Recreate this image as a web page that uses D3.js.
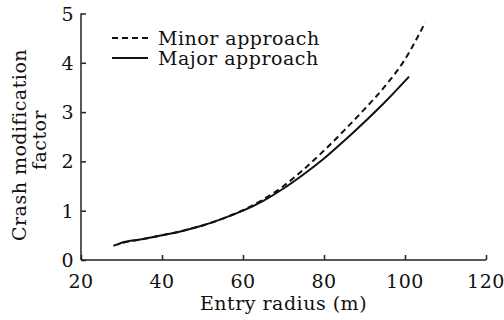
<!DOCTYPE html>
<html>
<head>
<meta charset="utf-8">
<script src="https://cdn.jsdelivr.net/npm/d3@7"></script>
<style>
  body { margin: 0; background: #fff; }
  svg text { font-family: "DejaVu Serif", serif; fill: #111; letter-spacing: 0.5px; }
  .axis path, .axis line { stroke: #222; stroke-width: 1.5; }
</style>
</head>
<body>
<svg width="504" height="320"></svg>
<script>
// entry radius (m) and crash modification factor
const minorRadius = [28, 30, 35, 40, 45, 50, 55, 60, 65, 70, 75, 80, 85, 90, 95, 100, 105];
const minorCmf    = [0.29, 0.34, 0.42, 0.50, 0.59, 0.70, 0.84, 1.01, 1.23, 1.50, 1.84, 2.22, 2.63, 3.06, 3.52, 4.07, 4.82];
const majorRadius = [29, 30, 35, 40, 45, 50, 55, 60, 65, 70, 75, 80, 85, 90, 95, 101];
const majorCmf    = [0.31, 0.35, 0.42, 0.50, 0.59, 0.70, 0.84, 1.00, 1.20, 1.45, 1.74, 2.06, 2.42, 2.80, 3.20, 3.72];
const xTicks = [20, 40, 60, 80, 100, 120];
const yTicks = [0, 1, 2, 3, 4, 5];
const legendLabels = ["Minor approach", "Major approach"];

const svg = d3.select("svg");

const x = d3.scaleLinear().domain([20, 120]).range([81, 486]),
    y = d3.scaleLinear().domain([0, 5]).range([260, 13.5]);

const xAxis = d3.axisTop(x).tickValues(xTicks).tickSize(5).tickFormat(""),
    yAxis = d3.axisRight(y).tickValues(yTicks).tickSize(5).tickFormat("");

svg.append("g")
    .attr("class", "axis")
    .attr("transform", "translate(0," + y(0) + ")")
    .call(xAxis)
    .call(g => g.select(".domain").attr("d", "M" + x(20) + ",0H" + x(120)));

svg.append("g")
    .attr("class", "axis")
    .attr("transform", "translate(" + x(20) + ",0)")
    .call(yAxis)
    .call(g => g.select(".domain").attr("d", "M0," + y(0) + "V" + y(5)));

// tick labels
svg.append("g").selectAll("text")
    .data(xTicks)
    .enter().append("text")
    .attr("x", d => x(d))
    .attr("y", 288)
    .attr("text-anchor", "middle")
    .attr("font-size", 19)
    .text(d => d);

svg.append("g").selectAll("text")
    .data(yTicks)
    .enter().append("text")
    .attr("x", 74)
    .attr("y", d => y(d) + 7)
    .attr("text-anchor", "end")
    .attr("font-size", 19)
    .text(d => d);

// axis titles
svg.append("text")
    .attr("x", 283.5)
    .attr("y", 310)
    .attr("text-anchor", "middle")
    .attr("font-size", 19)
    .text("Entry radius (m)");

svg.append("text")
    .attr("transform", "translate(26,145) rotate(-90)")
    .attr("text-anchor", "middle")
    .attr("font-size", 19)
    .text("Crash modification");

svg.append("text")
    .attr("transform", "translate(46,140) rotate(-90)")
    .attr("text-anchor", "middle")
    .attr("font-size", 19)
    .text("factor");

// curves
const line = d3.line()
    .x(d => x(d[0]))
    .y(d => y(d[1]))
    .curve(d3.curveMonotoneX);

svg.append("path")
    .datum(d3.zip(majorRadius, majorCmf))
    .attr("fill", "none")
    .attr("stroke", "#111")
    .attr("stroke-width", 2)
    .attr("d", line);

svg.append("path")
    .datum(d3.zip(minorRadius, minorCmf))
    .attr("fill", "none")
    .attr("stroke", "#111")
    .attr("stroke-width", 2)
    .attr("stroke-dasharray", "6,4")
    .attr("d", line);

// legend
const legend = svg.append("g");
legendLabels.forEach((label, i) => {
  const ly = 38 + i * 20;
  legend.append("line")
      .attr("x1", 112).attr("x2", 148)
      .attr("y1", ly).attr("y2", ly)
      .attr("stroke", "#111")
      .attr("stroke-width", 2)
      .attr("stroke-dasharray", i === 0 ? "6,4" : null);
  legend.append("text")
      .attr("x", 158)
      .attr("y", ly + 6.5)
      .attr("font-size", 19)
      .text(label);
});
</script>
</body>
</html>
